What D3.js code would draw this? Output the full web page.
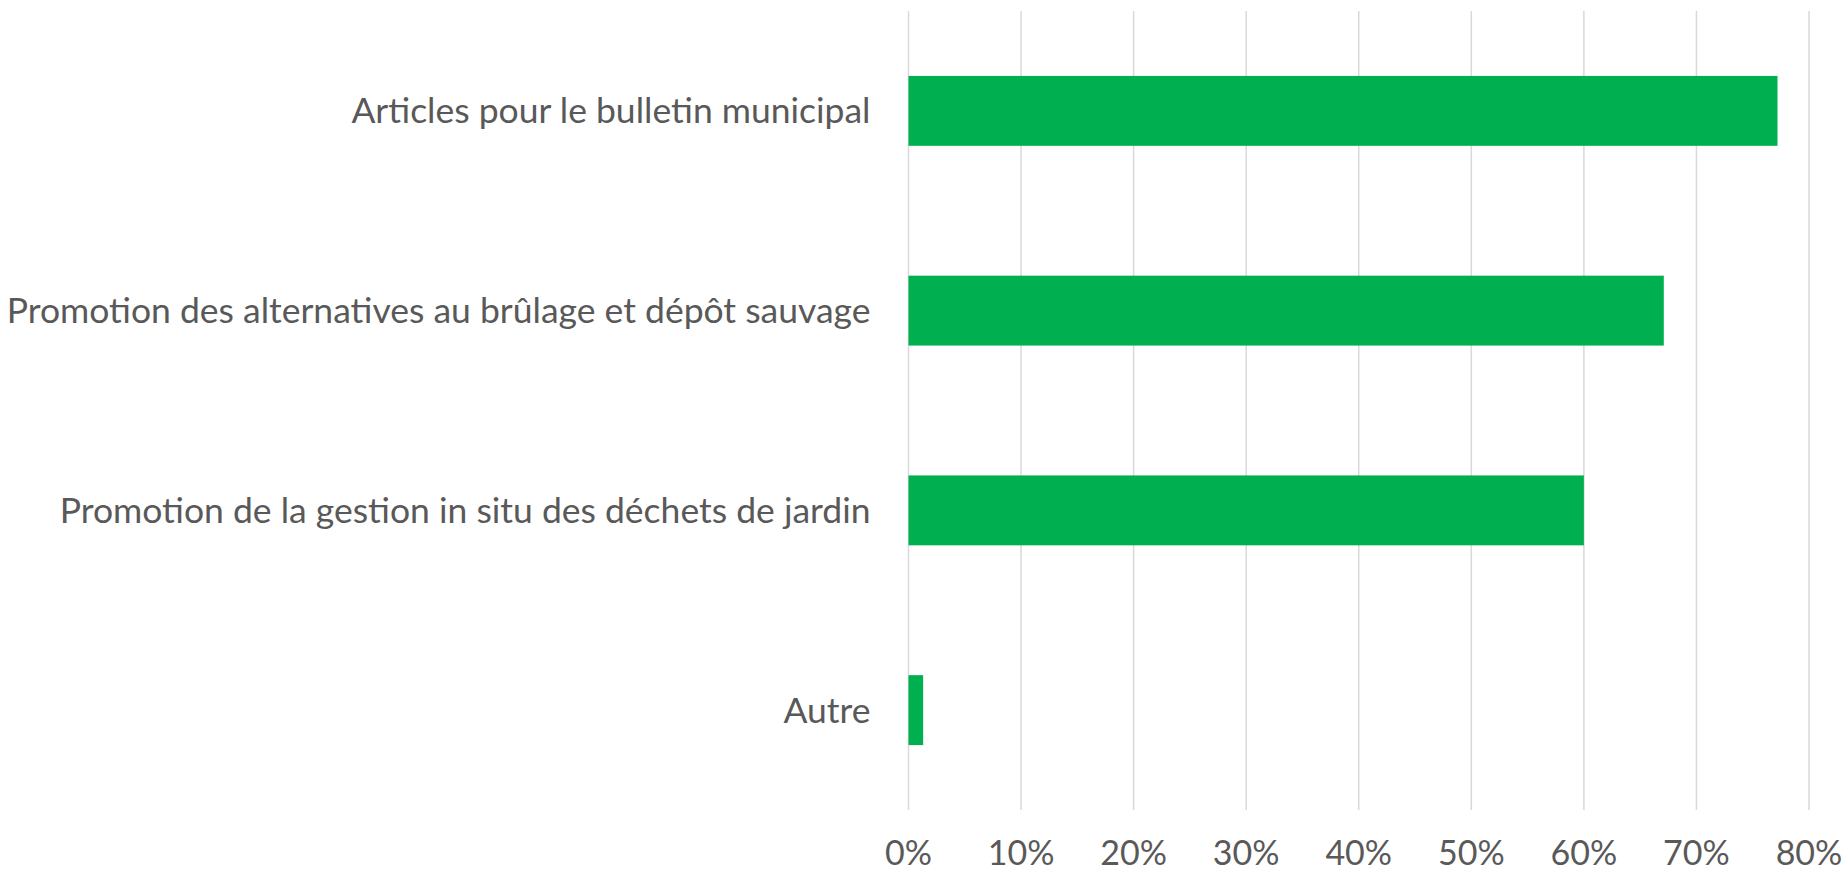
<!DOCTYPE html>
<html>
<head>
<meta charset="utf-8">
<script src="https://d3js.org/d3.v7.min.js"></script>
<style>
  html, body { margin: 0; padding: 0; background: #fff; }
  svg text { font-family: Lato, "Open Sans", sans-serif; fill: #595959; }
</style>
</head>
<body>
<svg id="chart" width="1848" height="872"></svg>
<script>
// Chart data
const categories = [
  'Articles pour le bulletin municipal',
  'Promotion des alternatives au brûlage et dépôt sauvage',
  'Promotion de la gestion in situ des déchets de jardin',
  'Autre'
];
const values = [0.772, 0.671, 0.600, 0.013];
const xTicks = [0, 0.1, 0.2, 0.3, 0.4, 0.5, 0.6, 0.7, 0.8];

const width = 1848;
const height = 872;
const plot = { left: 908.5, right: 1809, top: 11, bottom: 810 };

const svg = d3.select('#chart');

const x = d3.scaleLinear()
  .domain([0, 0.8])
  .range([plot.left, plot.right]);

const y = d3.scaleBand()
  .domain(categories)
  .range([plot.top, plot.bottom])
  .paddingInner(0.65)
  .paddingOuter(0.325);

// vertical gridlines
svg.append('g')
  .selectAll('line')
  .data(xTicks)
  .enter().append('line')
  .attr('x1', d => x(d))
  .attr('x2', d => x(d))
  .attr('y1', plot.top)
  .attr('y2', plot.bottom)
  .attr('stroke', '#d9d9d9')
  .attr('stroke-width', 1.5);

// bars
svg.append('g')
  .selectAll('rect')
  .data(values)
  .enter().append('rect')
  .attr('x', x(0))
  .attr('y', (d, i) => y(categories[i]))
  .attr('width', d => x(d) - x(0))
  .attr('height', y.bandwidth())
  .attr('fill', '#00b050');

// x tick labels
svg.append('g')
  .selectAll('text')
  .data(xTicks)
  .enter().append('text')
  .attr('x', d => x(d))
  .attr('y', 865)
  .attr('text-anchor', 'middle')
  .style('font-size', '34px')
  .text(d3.format('.0%'));

// category labels
svg.append('g')
  .selectAll('text')
  .data(categories)
  .enter().append('text')
  .attr('x', plot.left - 38)
  .attr('y', d => y(d) + y.bandwidth() / 2 + 12.5)
  .attr('text-anchor', 'end')
  .style('font-size', '35.5px')
  .text(d => d);
</script>
</body>
</html>
